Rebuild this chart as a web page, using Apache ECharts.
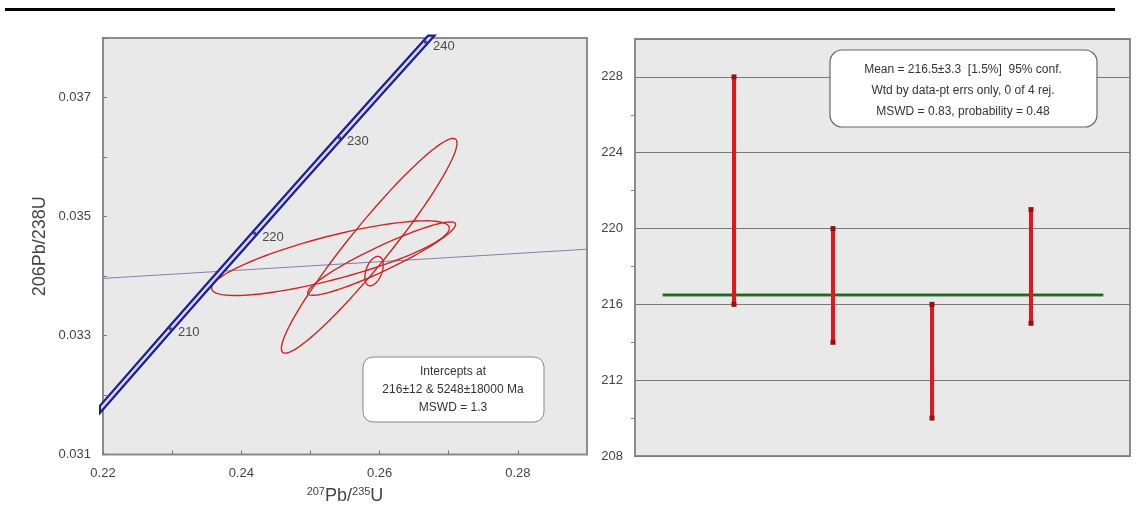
<!DOCTYPE html>
<html><head><meta charset="utf-8">
<script src="https://cdn.jsdelivr.net/npm/echarts@6/dist/echarts.min.js"></script>
<style>html,body{margin:0;padding:0;background:#fff}#c{width:1137px;height:510px}</style>
</head><body><div id="c"></div>
<script>
// Concordia (ages in Ma and ratios)
const concAges = [200, 210, 220, 230, 240, 250];
const concX = [0.21770, 0.22975, 0.24193, 0.25421, 0.26664, 0.27917];
const concY = [0.031511, 0.033113, 0.034717, 0.036322, 0.037932, 0.039543];
const labelAges = [210, 220, 230, 240];
// Discordia through the two intercepts (read at plot edges)
const discX = [0.22, 0.29];
const discY = [0.03396, 0.03445];
// Error ellipses: 207Pb/235U, sigma, 206Pb/238U, sigma, rho
const ellX = [0.2529, 0.2603, 0.2585, 0.2592];
const ellSx = [0.0172, 0.0107, 0.0127, 0.00133];
const ellY = [0.034300, 0.034292, 0.034508, 0.034083];
const ellSy = [0.000628, 0.000617, 0.001805, 0.000247];
const ellRho = [0.80, 0.93, 0.956, 0.42];
// Weighted mean plot
const ptIndex = [1, 2, 3, 4];
const ptLow = [216, 214, 210, 215];
const ptHigh = [228, 220, 216, 221];
const meanAge = 216.5;
const meanX = [0.28, 4.73];
const xTickLabels = ['0.22', '0.24', '0.26', '0.28'];
const yTickLabels = ['0.031', '0.033', '0.035', '0.037'];
const ageTickLabels = ['208', '212', '216', '220', '224', '228'];

const FONT = 'Liberation Sans, Arial, sans-serif';
const chart = echarts.init(document.getElementById('c'));

const concData = concX.map((x, i) => [x, concY[i]]);
const labData = labelAges.map(a => { const i = concAges.indexOf(a); return [concX[i], concY[i], a]; });
const ellData = ellX.map((x, i) => [x, ellSx[i], ellY[i], ellSy[i], ellRho[i]]);
const barData = ptIndex.map((x, i) => [x, ptLow[i], ptHigh[i]]);

chart.setOption({
  backgroundColor: '#fff',
  animation: false,
  grid: [
    {left: 103, top: 38, width: 484, height: 417, show: true, backgroundColor: '#e9e9e9', borderColor: '#8c8c8c', borderWidth: 2},
    {left: 635, top: 39, width: 495, height: 417, show: true, backgroundColor: '#e9e9e9', borderColor: '#8c8c8c', borderWidth: 2}
  ],
  xAxis: [
    {gridIndex: 0, type: 'value', min: 0.22, max: 0.29, interval: 0.01,
     axisLine: {show: false}, splitLine: {show: false},
     axisTick: {show: true, inside: true, length: 4, lineStyle: {color: '#777'}},
     axisLabel: {color: '#444', fontSize: 13, fontFamily: FONT, margin: 12, showMaxLabel: false,
       formatter: v => { const s = v.toFixed(2); return xTickLabels.includes(s) ? s : ''; }},
     name: '{s|207}{b|Pb/}{s|235}{b|U}', nameLocation: 'middle', nameGap: 32,
     nameTextStyle: {rich: {s: {fontSize: 11, color: '#444', fontFamily: FONT, verticalAlign: 'top', padding: [0,0,8,0]}, b: {fontSize: 18, color: '#444', fontFamily: FONT}}}},
    {gridIndex: 1, type: 'value', min: 0, max: 5, show: false}
  ],
  yAxis: [
    {gridIndex: 0, type: 'value', min: 0.031, max: 0.038, interval: 0.001,
     axisLine: {show: false}, splitLine: {show: false},
     axisTick: {show: true, inside: true, length: 4, lineStyle: {color: '#777'}},
     axisLabel: {color: '#444', fontSize: 13, fontFamily: FONT, margin: 12,
       formatter: v => { const s = v.toFixed(3); return yTickLabels.includes(s) ? s : ''; }},
     name: '206Pb/238U', nameLocation: 'middle', nameGap: 54, nameRotate: 90,
     nameTextStyle: {fontSize: 18, color: '#444', fontFamily: FONT}},
    {gridIndex: 1, type: 'value', min: 208, max: 230, interval: 4,
     axisLine: {show: false},
     axisTick: {show: false},
     minorTick: {show: true, splitNumber: 2, length: 4, lineStyle: {color: '#888'}},
     splitLine: {show: true, lineStyle: {color: '#7a7a7a', width: 1}},
     axisLabel: {color: '#444', fontSize: 13, fontFamily: FONT, margin: 12,
       formatter: v => { const s = String(Math.round(v)); return ageTickLabels.includes(s) ? s : ''; }}}
  ],
  series: [
    {type: 'line', xAxisIndex: 0, yAxisIndex: 0, data: [[discX[0], discY[0]], [discX[1], discY[1]]],
     symbol: 'none', lineStyle: {color: '#8080aa', width: 1}, z: 2},
    {type: 'custom', xAxisIndex: 0, yAxisIndex: 0, data: ellData, z: 3,
     renderItem: function (params, api) {
       const cx = api.value(0), sx = api.value(1), cy = api.value(2), sy = api.value(3), r = api.value(4);
       const pts = [];
       const q = Math.sqrt(1 - r * r);
       for (let k = 0; k <= 90; k++) {
         const t = k / 90 * Math.PI * 2;
         const c = Math.cos(t), s = Math.sin(t);
         pts.push(api.coord([cx + sx * c, cy + sy * (r * c + q * s)]));
       }
       return {type: 'polyline', shape: {points: pts}, style: {fill: null, stroke: '#cc2626', lineWidth: 1.4}};
     }},
    {type: 'line', xAxisIndex: 0, yAxisIndex: 0, data: concData, symbol: 'none', smooth: true,
     lineStyle: {color: '#20208c', width: 7}, z: 4},
    {type: 'line', xAxisIndex: 0, yAxisIndex: 0, data: concData, symbol: 'none', smooth: true,
     lineStyle: {color: '#d2d6f2', width: 2.5}, z: 5},
    {type: 'scatter', xAxisIndex: 0, yAxisIndex: 0, data: labData, symbol: 'rect', symbolSize: [3, 3],
     itemStyle: {color: '#20208c'}, z: 6,
     label: {show: true, position: 'right', distance: 6, offset: [0, 4], color: '#222', fontSize: 13, fontFamily: FONT,
       formatter: p => String(p.value[2])}},
    {type: 'line', xAxisIndex: 1, yAxisIndex: 1, data: [[meanX[0], meanAge], [meanX[1], meanAge]],
     symbol: 'none', lineStyle: {color: '#2f8a2f', width: 3}, z: 3},
    {type: 'line', xAxisIndex: 1, yAxisIndex: 1, data: [[meanX[0], meanAge], [meanX[1], meanAge]],
     symbol: 'none', lineStyle: {color: '#1e3d1e', width: 1}, z: 4},
    {type: 'custom', xAxisIndex: 1, yAxisIndex: 1, data: barData, z: 5,
     renderItem: function (params, api) {
       const lo = api.coord([api.value(0), api.value(1)]);
       const hi = api.coord([api.value(0), api.value(2)]);
       return {type: 'group', children: [
         {type: 'line', shape: {x1: lo[0], y1: lo[1], x2: hi[0], y2: hi[1]}, style: {stroke: '#e8141c', lineWidth: 4}},
         {type: 'rect', shape: {x: lo[0] - 2.5, y: lo[1] - 2.5, width: 5, height: 5}, style: {fill: '#9a1010'}},
         {type: 'rect', shape: {x: hi[0] - 2.5, y: hi[1] - 2.5, width: 5, height: 5}, style: {fill: '#9a1010'}}
       ]};
     }}
  ],
  graphic: [
    {type: 'rect', shape: {x: 5, y: 8, width: 1110, height: 3}, style: {fill: '#000'}},
    {type: 'rect', z: 100, shape: {x: 363, y: 357, width: 181, height: 65, r: 10}, style: {fill: '#fff', stroke: '#888', lineWidth: 1}},
    {type: 'text', z: 101, style: {x: 453, y: 390, text: 'Intercepts at\n216±12 & 5248±18000 Ma\nMSWD = 1.3', align: 'center', verticalAlign: 'middle', fill: '#333', fontSize: 12, fontFamily: FONT, lineHeight: 18}},
    {type: 'rect', z: 100, shape: {x: 830, y: 50, width: 267, height: 77, r: 12}, style: {fill: '#fff', stroke: '#666', lineWidth: 1.2}},
    {type: 'text', z: 101, style: {x: 963, y: 91, text: 'Mean = 216.5±3.3  [1.5%]  95% conf.\nWtd by data-pt errs only, 0 of 4 rej.\nMSWD = 0.83, probability = 0.48', align: 'center', verticalAlign: 'middle', fill: '#333', fontSize: 12, fontFamily: FONT, lineHeight: 21}}
  ]
});
</script></body></html>
